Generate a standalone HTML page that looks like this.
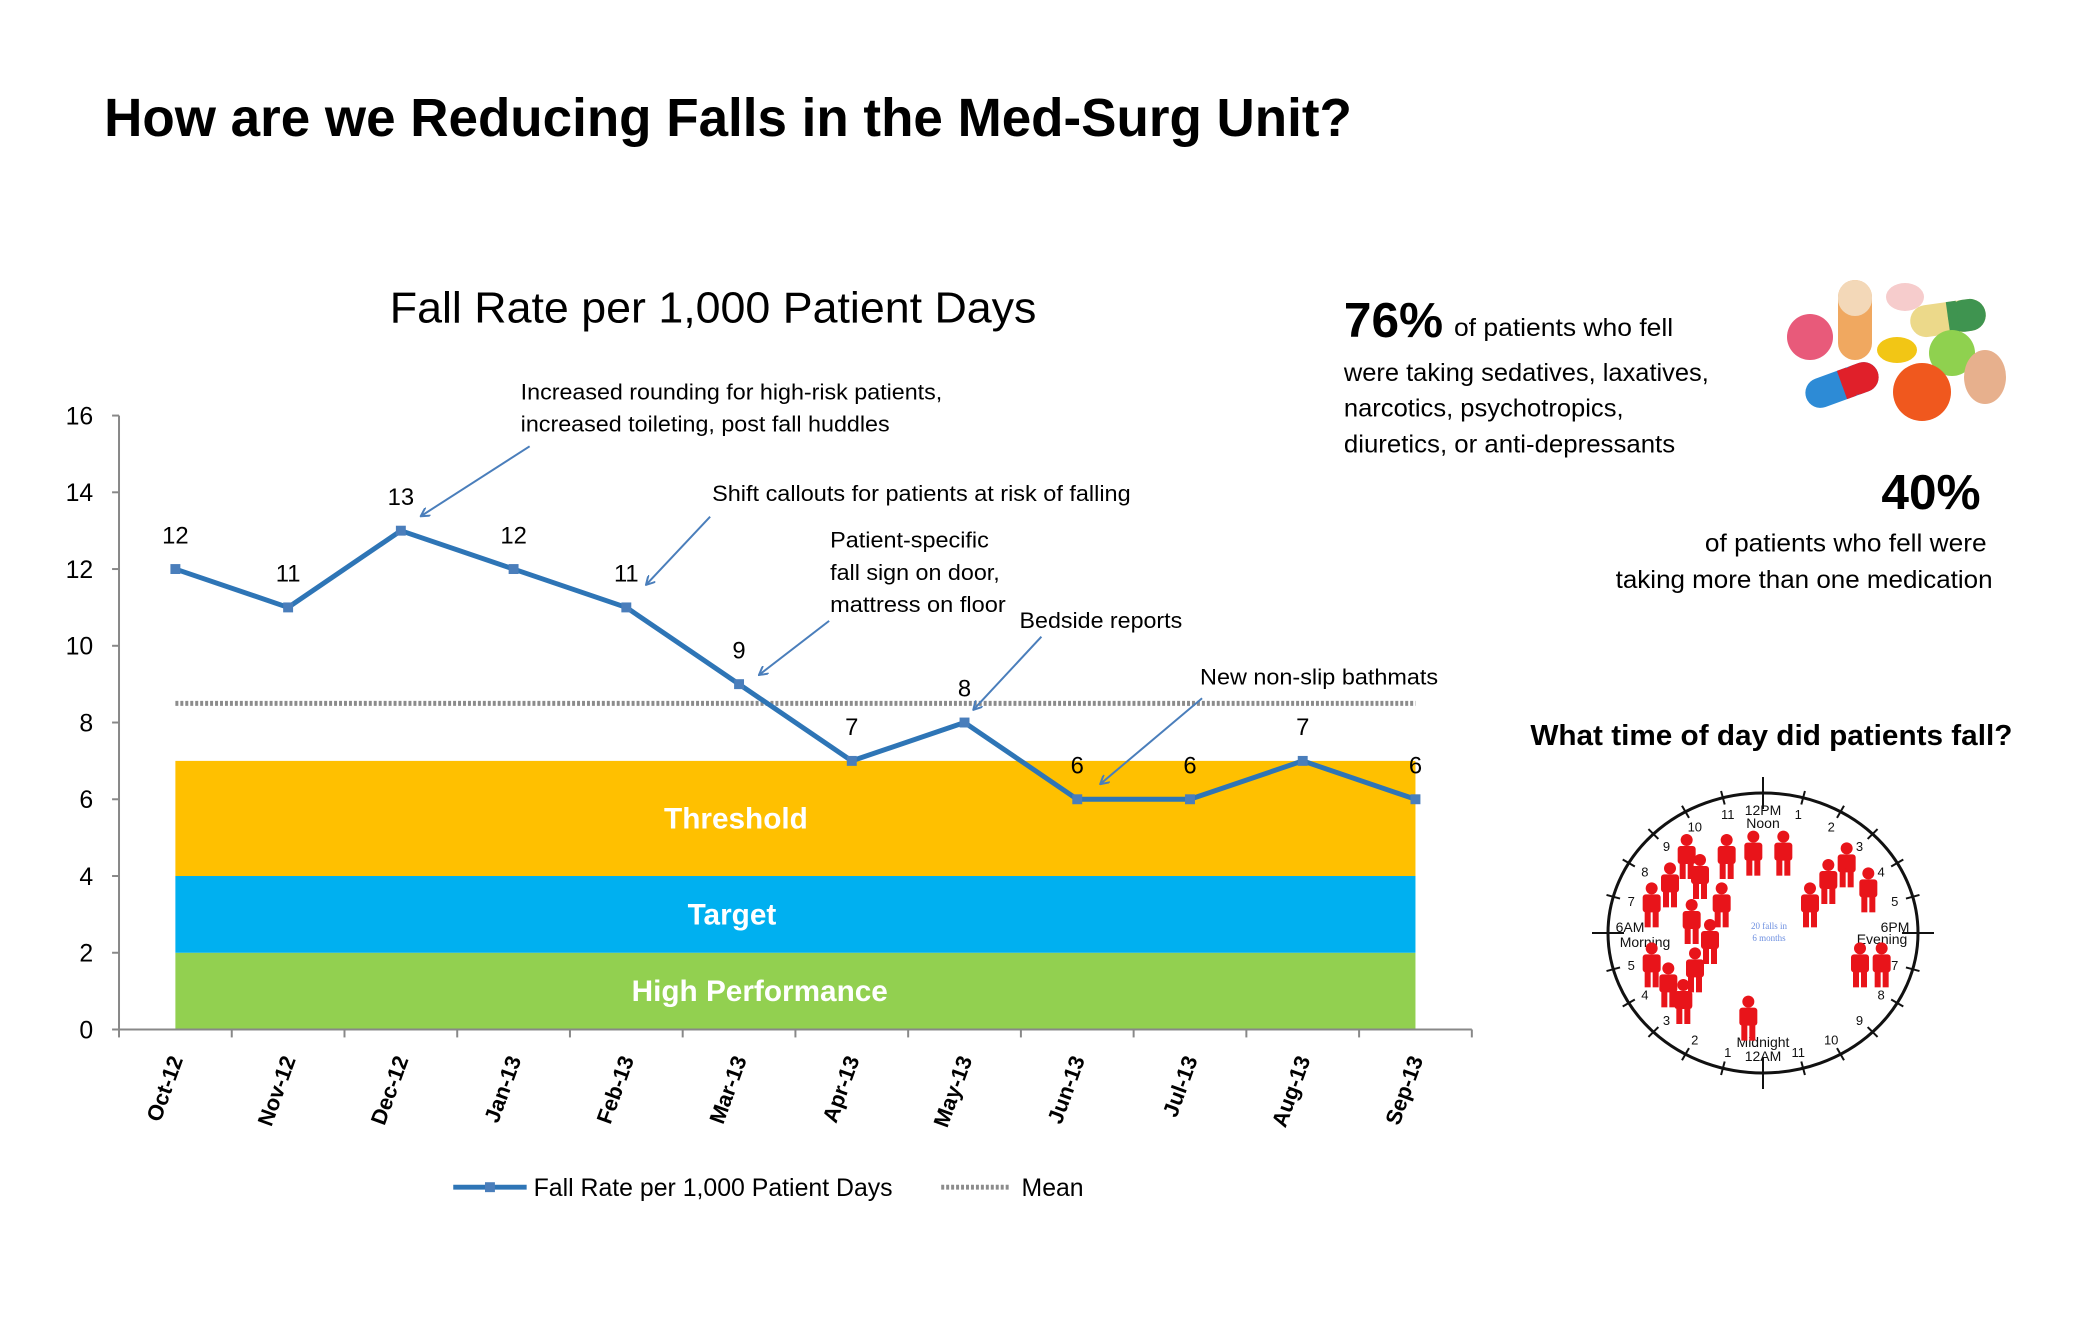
<!DOCTYPE html>
<html><head><meta charset="utf-8"><style>
html,body{margin:0;padding:0;background:#fff;}
svg{display:block;font-family:"Liberation Sans",sans-serif;}
</style></head><body>
<svg id="s" width="2090" height="1329" viewBox="0 0 2090 1329">
<defs>
<marker id="ah" markerWidth="10" markerHeight="10" refX="8" refY="5" orient="auto" markerUnits="userSpaceOnUse">
<path d="M0,0 L9,5 L0,10" fill="none" stroke="#4a7ebb" stroke-width="2"/></marker>
</defs>
<g transform="scale(0.9918)">
<text x="105" y="137" font-size="54" font-weight="bold" textLength="1258" lengthAdjust="spacingAndGlyphs">How are we Reducing Falls in the Med-Surg Unit?</text>
<text x="719" y="325" font-size="44" text-anchor="middle" textLength="652" lengthAdjust="spacingAndGlyphs">Fall Rate per 1,000 Patient Days</text>
<g id="chart"></g>
<g font-size="22" fill="#000">
<text x="525" y="403" textLength="425" lengthAdjust="spacingAndGlyphs">Increased rounding for high-risk patients,</text>
<text x="525" y="435" textLength="372" lengthAdjust="spacingAndGlyphs">increased toileting, post fall huddles</text>
<line x1="534" y1="450" x2="425" y2="520" stroke="#4a7ebb" stroke-width="2" marker-end="url(#ah)"/>
<text x="718" y="505" textLength="422" lengthAdjust="spacingAndGlyphs">Shift callouts for patients at risk of falling</text>
<line x1="716" y1="521" x2="652" y2="589" stroke="#4a7ebb" stroke-width="2" marker-end="url(#ah)"/>
<text x="837" y="552" textLength="160" lengthAdjust="spacingAndGlyphs">Patient-specific</text>
<text x="837" y="585" textLength="171" lengthAdjust="spacingAndGlyphs">fall sign on door,</text>
<text x="837" y="617" textLength="177" lengthAdjust="spacingAndGlyphs">mattress on floor</text>
<line x1="836" y1="626" x2="766" y2="680" stroke="#4a7ebb" stroke-width="2" marker-end="url(#ah)"/>
<text x="1028" y="633" textLength="164" lengthAdjust="spacingAndGlyphs">Bedside reports</text>
<line x1="1050" y1="642" x2="982" y2="715" stroke="#4a7ebb" stroke-width="2" marker-end="url(#ah)"/>
<text x="1210" y="690" textLength="240" lengthAdjust="spacingAndGlyphs">New non-slip bathmats</text>
<line x1="1212" y1="704" x2="1110" y2="790" stroke="#4a7ebb" stroke-width="2" marker-end="url(#ah)"/>
</g>
<g>
<text x="1355" y="340" font-size="50" font-weight="bold">76%</text>
<text x="1466" y="339" font-size="25" textLength="221" lengthAdjust="spacingAndGlyphs">of patients who fell</text>
<text x="1355" y="384" font-size="25" textLength="368" lengthAdjust="spacingAndGlyphs">were taking sedatives, laxatives,</text>
<text x="1355" y="420" font-size="25" textLength="282" lengthAdjust="spacingAndGlyphs">narcotics, psychotropics,</text>
<text x="1355" y="456" font-size="25" textLength="334" lengthAdjust="spacingAndGlyphs">diuretics, or anti-depressants</text>
</g>
<g>
<text x="1997" y="513" font-size="50" font-weight="bold" text-anchor="end">40%</text>
<text x="2003" y="556" font-size="25" text-anchor="end" textLength="284" lengthAdjust="spacingAndGlyphs">of patients who fell were</text>
<text x="2009" y="593" font-size="25" text-anchor="end" textLength="380" lengthAdjust="spacingAndGlyphs">taking more than one medication</text>
</g>
<text x="1543" y="751" font-size="29" font-weight="bold" textLength="486" lengthAdjust="spacingAndGlyphs">What time of day did patients fall?</text>
</g>
<g>
<g transform="translate(1855,320)"><rect x="-17" y="-40" width="34" height="80" rx="17" fill="#f0a860"/><rect x="-17" y="-40" width="34" height="36" rx="17" fill="#f3d8b8"/></g>
<ellipse cx="1905" cy="297" rx="19" ry="14" fill="#f6cccc"/>
<g transform="translate(1948,318) rotate(-8)"><rect x="-38" y="-16" width="76" height="32" rx="16" fill="#ecd98a"/><rect x="0" y="-16" width="38" height="32" rx="16" fill="#3f9450"/><rect x="0" y="-16" width="10" height="32" fill="#3f9450"/></g>
<circle cx="1810" cy="337" r="23" fill="#e85a7a"/>
<ellipse cx="1897" cy="350" rx="20" ry="13" fill="#f2c615"/>
<circle cx="1952" cy="353" r="23" fill="#8fd14f"/>
<ellipse cx="1985" cy="377" rx="21" ry="27" fill="#e7b08d"/>
<g transform="translate(1842,385) rotate(-20)"><rect x="-38" y="-15" width="76" height="30" rx="15" fill="#2d8bd6"/><rect x="0" y="-15" width="38" height="30" rx="15" fill="#e0202a"/><rect x="0" y="-15" width="10" height="30" fill="#e0202a"/></g>
<circle cx="1922" cy="392" r="29" fill="#f0581e"/>
</g>
<g id="clock"></g>
</svg>
<script>
const categories=["Oct-12","Nov-12","Dec-12","Jan-13","Feb-13","Mar-13","Apr-13","May-13","Jun-13","Jul-13","Aug-13","Sep-13"];
const fallRate=[12,11,13,12,11,9,7,8,6,6,7,6];
const meanValue=[8.5];
const bandBounds=[0,2,4,7];
const bandLabels=["High Performance","Target","Threshold"];
const yTicks=[0,2,4,6,8,10,12,14,16];
const NS="http://www.w3.org/2000/svg";
function mk(p,t,a,txt){const e=document.createElementNS(NS,t);for(const k in a)e.setAttribute(k,a[k]);if(txt!=null)e.textContent=txt;p.appendChild(e);return e;}
const g=document.getElementById('chart');
const X0=120,X1=1484,Y0=1038,Y16=419;
const step=(X1-X0)/categories.length;
const xs=i=>X0+step*(i+0.5);
const ys=v=>Y0-(Y0-Y16)*v/16;
const bandColors=["#92d050","#00b0f0","#ffc000"];
const labelX=[766,738,742];
for(let i=0;i<3;i++){
 const r=mk(g,'rect',{x:xs(0),y:ys(bandBounds[i+1]),width:xs(categories.length-1)-xs(0),height:ys(bandBounds[i])-ys(bandBounds[i+1]),fill:bandColors[i]});
 
 
 const t=mk(g,'text',{x:labelX[i],y:(ys(bandBounds[i])+ys(bandBounds[i+1]))/2+10,'font-size':30,'font-weight':'bold',fill:'#fff','text-anchor':'middle'},bandLabels[i]);
 
 
}
const ax=mk(g,'path',{d:`M${X0},${Y16} V${Y0} H${X1}`,stroke:'#888',fill:'none','stroke-width':2});


yTicks.forEach(v=>{
 mk(g,'line',{x1:X0-7,x2:X0,y1:ys(v),y2:ys(v),stroke:'#888','stroke-width':2});
 const t=mk(g,'text',{x:X0-26,y:ys(v)+9,'font-size':25,'text-anchor':'end'},v);
 
 
});
for(let i=0;i<=categories.length;i++)mk(g,'line',{x1:X0+step*i,x2:X0+step*i,y1:Y0,y2:Y0+8,stroke:'#888','stroke-width':2});
categories.forEach((c,i)=>{
 const t=mk(g,'text',{x:0,y:0,'font-size':22,'font-weight':'bold','text-anchor':'end',transform:`translate(${xs(i)+8},${Y0+30}) rotate(-70)`},c);
 
 
});
const mean=mk(g,'line',{x1:xs(0),x2:xs(categories.length-1),y1:ys(meanValue[0]),y2:ys(meanValue[0]),stroke:'#8c8c8c','stroke-width':5,'stroke-dasharray':'3 2'});


const line=mk(g,'polyline',{points:fallRate.map((v,i)=>xs(i)+','+ys(v)).join(' '),fill:'none',stroke:'#2e75b6','stroke-width':5,'stroke-linejoin':'round'});


fallRate.forEach((v,i)=>{
 const m=mk(g,'rect',{x:xs(i)-5,y:ys(v)-5,width:10,height:10,fill:'#4a7ebb'});
 
 
 const t=mk(g,'text',{x:xs(i),y:ys(v)-26,'font-size':24,'text-anchor':'middle'},v);
 
 
});
const lg=mk(g,'g',{});


mk(lg,'line',{x1:457,x2:531,y1:1197,y2:1197,stroke:'#2e75b6','stroke-width':5});
mk(lg,'rect',{x:489,y:1192,width:10,height:10,fill:'#4a7ebb'});
const l1=mk(lg,'text',{x:538,y:1206,'font-size':25,textLength:362,lengthAdjust:'spacingAndGlyphs'},'Fall Rate per 1,000 Patient Days');


mk(lg,'line',{x1:949,x2:1019,y1:1197,y2:1197,stroke:'#8c8c8c','stroke-width':5,'stroke-dasharray':'3 2'});
const l2=mk(lg,'text',{x:1030,y:1206,'font-size':25},'Mean');



// clock
const c=document.getElementById('clock');
const CX=1763,CY=933,RX=155,RY=140;
mk(c,'ellipse',{cx:CX,cy:CY,rx:RX,ry:RY,fill:'none',stroke:'#111','stroke-width':3});
for(let k=0;k<24;k++){const a=k/24*2*Math.PI;const L=k%6==0?16:7;
 mk(c,'line',{x1:CX+(RX-L)*Math.cos(a),y1:CY+(RY-L)*Math.sin(a),x2:CX+(RX+L)*Math.cos(a),y2:CY+(RY+L)*Math.sin(a),stroke:'#111','stroke-width':2});}
const hrs=[["7",1],["8",2],["9",3],["10",4],["11",5],["1",7],["2",8],["3",9],["4",10],["5",11],["7",13],["8",14],["9",15],["10",16],["11",17],["1",19],["2",20],["3",21],["4",22],["5",23]];
hrs.forEach(h=>{const a=h[1]/24*2*Math.PI;
 let x=CX+RX*0.88*Math.cos(a),y=CY+RY*0.88*Math.sin(a)+5;
 const t=mk(c,'text',{x:x,y:y,'font-size':13,'text-anchor':'middle',fill:'#111'},h[0]);
 
 });
[["12PM",1763,815],["Noon",1763,828],["Midnight",1763,1047],["12AM",1763,1061],["6AM",1630,932],["Morning",1645,947],["6PM",1895,932],["Evening",1882,944]].forEach(w=>{
 const t=mk(c,'text',{x:w[1],y:w[2],'font-size':14,'text-anchor':'middle',fill:'#111'},w[0]);
 
 });
const ct=mk(c,'text',{x:CX+6,y:CY-4,'font-size':9,'text-anchor':'middle',fill:'#6d8fe0','font-family':'Liberation Serif'},'20 falls in');


mk(c,'text',{x:CX+6,y:CY+8,'font-size':9,'text-anchor':'middle',fill:'#6d8fe0','font-family':'Liberation Serif'},'6 months');
const people=[[320,180],[440,180],[520,170],[610,170],[360,240],[270,265],[215,325],[425,325],[335,375],[390,435],[215,505],[265,565],[345,520],[310,615],[505,665],[690,325],[745,255],[800,205],[865,280],[840,505],[905,505]];
people.forEach(p=>{const x=p[0]/3+1580,y=p[1]/3+780;
 const pg=mk(c,'g',{fill:'#e8141a'});
 
 
 mk(pg,'circle',{cx:x,cy:y,r:6});
 mk(pg,'rect',{x:x-9,y:y+6,width:18,height:18,rx:3});
 mk(pg,'rect',{x:x-7,y:y+20,width:6,height:19});
 mk(pg,'rect',{x:x+1,y:y+20,width:6,height:19});
});
</script>
</body></html>
